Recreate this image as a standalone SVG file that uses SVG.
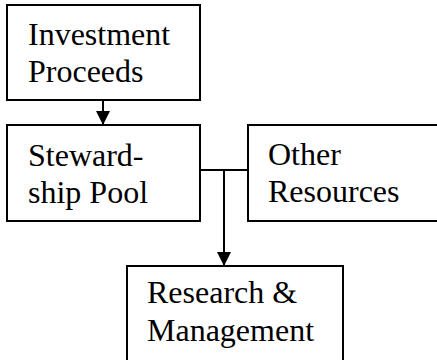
<svg xmlns="http://www.w3.org/2000/svg" width="437" height="360" viewBox="0 0 437 360">
  <defs>
    <marker id="arrow" viewBox="0 0 14 14" refX="14" refY="7" markerWidth="14" markerHeight="14" markerUnits="userSpaceOnUse" orient="auto">
      <path d="M0,0 L14,7 L0,14 Z" fill="#000"/>
    </marker>
    <style>
      .box { fill: #fff; stroke: #000; stroke-width: 2; }
      .label { font-family: "Liberation Serif", "Times New Roman", serif; font-size: 32px; fill: #000; }
      .link { fill: none; stroke: #000; stroke-width: 2; }
    </style>
  </defs>
  <rect width="437" height="360" fill="#fff"/>

  <g id="investment-proceeds">
    <rect class="box" x="7" y="5" width="193" height="95"/>
    <text class="label" x="28" y="45">Investment</text>
    <text class="label" x="28" y="82">Proceeds</text>
  </g>

  <g id="stewardship-pool">
    <rect class="box" x="7" y="125" width="193" height="96"/>
    <text class="label" x="28" y="166">Steward-</text>
    <text class="label" x="28" y="203">ship Pool</text>
  </g>

  <g id="other-resources">
    <rect class="box" x="248" y="125" width="200" height="96"/>
    <text class="label" x="268" y="165">Other</text>
    <text class="label" x="268" y="202">Resources</text>
  </g>

  <g id="research-management">
    <rect class="box" x="127" y="266" width="216" height="110"/>
    <text class="label" x="147" y="303">Research &amp;</text>
    <text class="label" x="147" y="341">Management</text>
  </g>

  <g id="connectors">
    <line class="link" x1="103" y1="100" x2="103" y2="125" marker-end="url(#arrow)"/>
    <line class="link" x1="200" y1="170" x2="248" y2="170"/>
    <line class="link" x1="224" y1="170" x2="224" y2="266" marker-end="url(#arrow)"/>
  </g>
</svg>
